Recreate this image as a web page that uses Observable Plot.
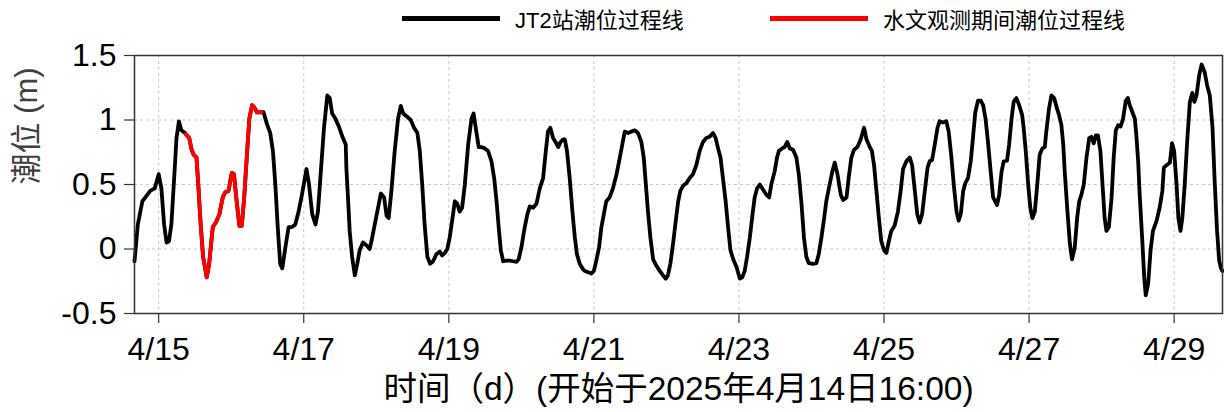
<!DOCTYPE html>
<html><head><meta charset="utf-8">
<script src="https://cdn.jsdelivr.net/npm/d3@7"></script>
<script src="https://cdn.jsdelivr.net/npm/@observablehq/plot@0.6"></script>
<style>
body{margin:0;background:#fff;font-family:"Liberation Sans",Arial,"Noto Sans CJK SC",sans-serif;}
#wrap{position:relative;width:1224px;height:412px;overflow:hidden;}
#legend{position:absolute;top:0;left:0;width:1224px;height:36px;font-size:22px;color:#000;z-index:2;}
.item{position:absolute;top:6px;height:24px;display:flex;align-items:center;white-space:nowrap;}
.sw{width:98px;height:5px;margin-right:15px;}
#chart{position:absolute;top:0;left:0;}
</style></head><body>
<div id="wrap"><div id="legend"></div><div id="chart"></div></div>
<script>
// ---- data ----
const startTime = "2025-04-14T16:00:00Z";
const endTime = "2025-04-29T16:00:00Z";
// hours since 2025-04-14 16:00
const hours = [
0,1.1,2.6,3.9,5.2,6.7,8.0,8.9,9.8,10.6,11.4,12.2,13.0,13.9,14.7,15.5,16.7,17.0,18.1,18.9,19.6,20.5,21.1,21.9,22.7,23.9,24.7,25.9,27.0,28.1,29.2,30.0,31.1,32.2,32.9,33.8,34.7,35.5,36.3,37.2,38.0,38.9,39.6,40.5,41.6,42.0,42.7,43.8,44.9,45.8,46.6,47.4,48.2,48.9,49.9,51.0,52.1,53.2,54.3,55.4,56.9,57.7,58.8,59.9,60.7,61.5,62.7,63.8,64.6,65.4,66.5,67.6,68.8,69.9,
70.1,70.7,71.2,72.0,72.9,73.7,74.5,75.6,76.7,77.8,78.4,79.5,80.6,81.5,82.6,83.4,84.1,85.0,86.1,87.2,88.1,88.9,90.0,91.4,92.5,93.6,94.4,95.2,96.0,96.9,97.8,98.8,99.9,101.0,101.8,102.7,103.5,104.3,105.1,106.0,106.8,107.6,108.4,109.3,110.4,111.5,112.2,113.1,113.9,114.8,115.9,117.0,118.1,119.0,119.8,120.5,121.2,122.0,123.1,124.2,125.3,126.4,127.1,128.0,128.9,130.0,130.8,131.9,133.0,134.1,135.2,136.1,136.8,137.6,138.5,139.3,140.2,141.0,141.8,
142.4,143.1,144.0,144.9,145.7,146.4,147.3,148.2,149.0,150.1,151.2,152.0,152.8,153.7,154.5,155.3,156.1,157.2,158.3,159.5,160.6,161.4,162.2,163.3,164.4,165.5,166.6,167.7,168.5,169.2,169.9,170.7,171.6,172.7,173.8,174.9,175.8,176.5,177.3,178.2,179.1,179.9,180.6,181.5,182.6,183.7,184.8,185.9,187.0,188.1,189.2,190.3,191.4,192.3,193.1,193.9,194.7,195.6,196.4,197.2,198.1,199.2,200.3,201.1,201.9,202.7,203.6,204.5,205.2,206.0,206.9,208.0,209.1,210.0,210.7,211.8,212.6,
213.2,214.3,215.1,216.0,216.8,217.9,219.0,219.8,220.7,221.5,222.3,223.1,224.5,225.6,226.4,227.3,228.2,228.9,230.0,230.9,231.7,232.6,233.7,234.5,235.6,236.3,237.2,238.1,239.2,240.3,241.4,242.2,243.3,244.0,244.7,245.5,246.3,247.1,248.0,248.8,249.6,250.4,251.5,252.6,253.5,254.3,255.4,256.5,257.3,258.2,259.0,259.8,260.6,261.5,262.4,263.1,263.9,264.8,265.7,266.4,267.5,268.6,269.4,270.3,271.2,272.0,272.7,273.4,274.2,274.9,275.8,276.7,277.5,278.2,279.1,280.0,280.8,281.6,282.4,
283.3,284.1,285.4,286.1,286.9,287.6,288.7,289.4,290.2,290.9,291.8,292.7,293.7,294.2,294.9,295.7,296.4,297.1,297.9,298.7,299.5,300.4,301.2,301.7,302.6,303.4,304.3,305.1,305.9,306.7,307.3,307.8,308.6,309.5,310.2,311.1,311.9,312.6,313.3,314.1,315.0,315.9,316.6,317.4,318.1,318.8,319.6,320.3,321.0,321.6,322.4,323.3,324.0,324.7,325.5,326.3,327.1,328.0,328.7,329.3,330.2,331.0,331.5,332.1,332.6,333.4,334.1,334.6,335.4,336.2,337.0,338.2,339.2,340.1,340.6,341.5,342.6,343.3,344.0,344.8,345.4,346.1,346.7,347.5,348.3,349.2,350.0,350.7,351.4,352.3,353.1,354.1,354.9,355.8,356.7,357.4,358.2,358.9,359.5,360
];
// tide level (m)
const level = [
-0.095,0.19,0.37,0.41,0.45,0.47,0.58,0.47,0.19,0.05,0.06,0.19,0.50,0.86,0.99,0.92,0.90,0.89,0.86,0.77,0.73,0.71,0.50,0.19,-0.06,-0.22,-0.115,0.17,0.21,0.27,0.40,0.44,0.45,0.59,0.58,0.37,0.18,0.18,0.40,0.73,1.01,1.115,1.10,1.06,1.06,1.06,1.06,0.97,0.90,0.76,0.50,0.17,-0.115,-0.15,0.01,0.17,0.17,0.19,0.29,0.42,0.62,0.51,0.27,0.19,0.29,0.55,0.94,1.19,1.17,1.05,1.01,0.95,0.87,0.81,
0.63,0.37,0.14,-0.06,-0.205,-0.115,-0.01,0.05,0.03,0.00,0.06,0.19,0.32,0.43,0.40,0.26,0.24,0.45,0.76,1.01,1.11,1.05,1.03,1.00,0.94,0.90,0.76,0.50,0.19,-0.06,-0.115,-0.095,-0.04,-0.02,-0.05,-0.03,0.00,0.09,0.22,0.37,0.35,0.29,0.32,0.50,0.81,1.01,1.05,0.91,0.79,0.79,0.78,0.76,0.68,0.55,0.37,0.17,-0.01,-0.095,-0.09,-0.09,-0.095,-0.10,-0.08,0.01,0.14,0.27,0.33,0.32,0.35,0.47,0.55,0.76,0.91,0.94,0.86,0.83,0.79,0.83,0.85,
0.85,0.76,0.55,0.29,0.09,-0.04,-0.115,-0.15,-0.17,-0.18,-0.19,-0.17,-0.09,0.01,0.17,0.27,0.37,0.40,0.47,0.58,0.71,0.81,0.91,0.90,0.91,0.92,0.90,0.83,0.71,0.50,0.29,0.09,-0.08,-0.13,-0.17,-0.205,-0.23,-0.205,-0.115,0.04,0.22,0.37,0.45,0.49,0.51,0.55,0.58,0.65,0.76,0.83,0.86,0.87,0.90,0.86,0.78,0.71,0.55,0.37,0.17,-0.01,-0.08,-0.14,-0.23,-0.22,-0.17,-0.06,0.09,0.27,0.40,0.47,0.50,0.46,0.42,0.40,0.50,0.60,0.71,
0.76,0.78,0.79,0.83,0.78,0.77,0.71,0.58,0.35,0.09,-0.06,-0.11,-0.115,-0.11,-0.04,0.09,0.24,0.37,0.50,0.60,0.67,0.58,0.42,0.38,0.40,0.55,0.71,0.77,0.79,0.85,0.94,0.85,0.79,0.76,0.65,0.45,0.24,0.06,-0.01,-0.03,0.06,0.14,0.18,0.29,0.45,0.62,0.68,0.71,0.65,0.45,0.27,0.205,0.27,0.45,0.63,0.68,0.69,0.81,0.94,0.99,0.98,0.99,0.91,0.71,0.47,0.29,0.22,0.27,0.45,0.51,0.55,0.68,0.88,1.06,1.15,1.15,1.115,1.01,0.83,
0.60,0.40,0.34,0.42,0.60,0.68,0.685,0.81,1.01,1.14,1.17,1.115,1.04,0.94,0.76,0.50,0.32,0.24,0.29,0.50,0.73,0.78,0.79,0.91,1.09,1.19,1.17,1.10,1.04,0.96,0.81,0.60,0.32,0.04,-0.08,0.01,0.24,0.37,0.42,0.50,0.71,0.86,0.87,0.82,0.88,0.88,0.76,0.50,0.24,0.14,0.17,0.40,0.71,0.92,0.96,0.95,1.01,1.15,1.17,1.115,1.06,1.01,0.88,0.68,0.42,0.09,-0.22,-0.36,-0.27,-0.01,0.14,0.22,0.32,0.45,0.63,0.65,0.67,0.82,0.76,0.50,0.24,0.14,0.24,0.50,0.83,1.14,1.21,1.14,1.19,1.35,1.43,1.37,1.27,1.19,0.94,0.53,0.14,-0.09,-0.15,-0.17
];
// hydrological observation period (hours since start)
const obsStartHour = 17;
const obsEndHour = 42;

const tickDates = ["2025-04-15","2025-04-17","2025-04-19","2025-04-21","2025-04-23","2025-04-25","2025-04-27","2025-04-29"];
const tickLabels = ["4/15","4/17","4/19","4/21","4/23","4/25","4/27","4/29"];
const yTicks = [-0.5, 0, 0.5, 1, 1.5];
const yGrid = [0, 0.5, 1];
const seriesNames = ["JT2站潮位过程线", "水文观测期间潮位过程线"];
const seriesColors = ["#000000", "#ff0000"];
const xLabel = "时间（d）(开始于2025年4月14日16:00)";
const yLabel = "潮位 (m)";

// ---- build ----
const t0 = new Date(startTime).getTime();
const rows = hours.map((h, i) => ({h, date: new Date(t0 + h * 3600e3), level: level[i]}));
const obsRows = rows.filter(d => d.h >= obsStartHour && d.h <= obsEndHour);
const tickDateObjs = tickDates.map(s => new Date(s + "T00:00:00Z"));
const fmtX = d => tickLabels[tickDateObjs.findIndex(t => +t === +d)];

const font = '"Liberation Sans", Arial, "Noto Sans CJK SC", sans-serif';

const chart = Plot.plot({
  width: 1224,
  height: 412,
  marginTop: 55,
  marginBottom: 99,
  marginLeft: 134,
  marginRight: 2,
  style: {fontFamily: font, fontSize: "32px", color: "#000", background: "#fff", overflow: "visible"},
  x: {type: "utc", domain: [new Date(startTime), new Date(endTime)]},
  y: {domain: [-0.5, 1.5]},
  marks: [
    Plot.gridX(tickDateObjs, {stroke: "#c8c8c8", strokeOpacity: 1, strokeWidth: 1, strokeDasharray: "3,3"}),
    Plot.gridY(yGrid, {stroke: "#c8c8c8", strokeOpacity: 1, strokeWidth: 1, strokeDasharray: "3,3"}),
    Plot.line(rows, {x: "date", y: "level", stroke: seriesColors[0], strokeWidth: 3.8, strokeLinejoin: "round"}),
    Plot.line(obsRows, {x: "date", y: "level", stroke: seriesColors[1], strokeWidth: 3.8, strokeLinejoin: "round"}),
    Plot.frame({stroke: "#333", strokeWidth: 1.5}),
    Plot.axisX(tickDateObjs, {anchor: "bottom", tickSize: 10, tickPadding: 14, tickFormat: fmtX, label: null, stroke: "#333", strokeWidth: 1.2, fontSize: 32}),
    Plot.axisY(yTicks, {anchor: "left", tickSize: 10, tickPadding: 8, tickFormat: d => String(d), label: null, stroke: "#333", strokeWidth: 1.2, fontSize: 32}),
    Plot.text([xLabel], {text: d => d, frameAnchor: "bottom", dy: 76, lineAnchor: "middle", fontSize: 33.5, fill: "#000"}),
    Plot.text([yLabel], {text: d => d, frameAnchor: "left", dx: -107, rotate: -90, lineAnchor: "middle", fontSize: 31, fill: "#404040"})
  ]
});
document.getElementById("chart").appendChild(chart);

// legend
const legend = document.getElementById("legend");
const legendX = [402, 770];
seriesNames.forEach((name, i) => {
  const it = document.createElement("div");
  it.className = "item";
  it.style.left = legendX[i] + "px";
  const sw = document.createElement("span");
  sw.className = "sw";
  sw.style.background = seriesColors[i];
  const tx = document.createElement("span");
  tx.textContent = name;
  it.appendChild(sw); it.appendChild(tx);
  legend.appendChild(it);
});
</script>
</body></html>
